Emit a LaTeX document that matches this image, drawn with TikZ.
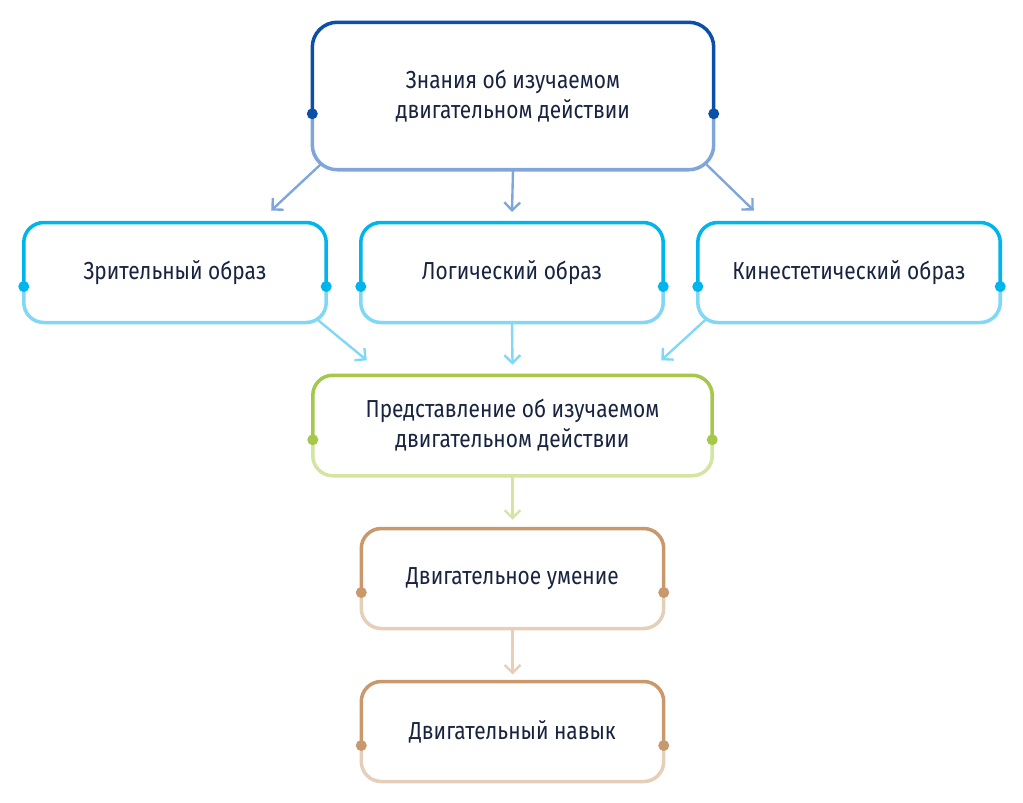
\documentclass[tikz,border=0pt]{standalone}
\usepackage{fontspec}
\setmainfont[FakeStretch=0.85]{Fira Sans}
\usetikzlibrary{arrows.meta}
\definecolor{txt}{HTML}{17233F}
\definecolor{knowD}{HTML}{0A50A8}
\definecolor{knowL}{HTML}{7FA6DB}
\definecolor{imgD}{HTML}{00B4EC}
\definecolor{imgL}{HTML}{80D8F6}
\definecolor{predD}{HTML}{A5C74A}
\definecolor{predL}{HTML}{D3E5A0}
\definecolor{skillD}{HTML}{C9996B}
\definecolor{skillL}{HTML}{E6CFB8}
% box outline: upper part dark, lower part light, dots at the split
\newcommand\twotone[5]{%
  \draw[#2,rounded corners=#5] ([yshift=#4]#1.south west) -- (#1.north west) -- (#1.north east) -- ([yshift=#4]#1.south east);
  \draw[#3,rounded corners=#5] ([yshift=#4]#1.south west) -- (#1.south west) -- (#1.south east) -- ([yshift=#4]#1.south east);
  \fill[#2] ([yshift=#4]#1.south west) circle (0.11cm) ([yshift=#4]#1.south east) circle (0.11cm);}
\begin{document}
\begin{tikzpicture}[x=0.02cm,y=-0.02cm,line width=2pt,
  block/.style={rectangle,align=center,inner sep=0pt,text=txt,font=\fontsize{14}{17}\selectfont,minimum width=5.98cm,minimum height=1.93cm},
  arr/.style={-{Straight Barb[length=4.5pt,width=9pt]},line width=1.35pt}]
\useasboundingbox (0,0) rectangle (1023,802);
\def\rowTwo{272.5}
\path
(513,96) node [block,minimum width=7.96cm,minimum height=2.88cm] (know) {Знания об изучаемом\\двигательном действии}
(175,\rowTwo) node [block] (vis) {Зрительный образ}
(512,\rowTwo) node [block] (log) {Логический образ}
(849,\rowTwo) node [block] (kin) {Кинестетический образ}
(512.5,425.5) node [block,minimum width=7.92cm,minimum height=1.94cm] (pred) {Представление об изучаемом\\двигательном действии}
(512.5,578.5) node [block] (umen) {Двигательное умение}
(512.5,731.5) node [block] (navyk) {Двигательный навык}
;

\twotone{know}{knowD}{knowL}{1.12cm}{0.5cm}
\twotone{vis}{imgD}{imgL}{0.72cm}{0.4cm}
\twotone{log}{imgD}{imgL}{0.72cm}{0.4cm}
\twotone{kin}{imgD}{imgL}{0.72cm}{0.4cm}
\twotone{pred}{predD}{predL}{0.72cm}{0.4cm}
\twotone{umen}{skillD}{skillL}{0.72cm}{0.4cm}
\twotone{navyk}{skillD}{skillL}{0.72cm}{0.4cm}

\begin{scope}[every path/.style={draw,arr}]
\path[knowL] ([shift={(8,-5)}]know.south west) -- ([shift={(-55,-12)}]vis.north east);
\path[knowL] (know.south) -- ([yshift=6]log.north);
\path[knowL] ([shift={(-7,-5)}]know.south east) -- ([shift={(56,-12)}]kin.north west);
\path[imgL] ([shift={(-9,-3)}]vis.south east) -- ([shift={(54,-15)}]pred.north west);
\path[imgL] (log.south) -- ([yshift=6]pred.north);
\path[imgL] ([shift={(8,-3)}]kin.south west) -- ([shift={(-51,-15)}]pred.north east);
\path[predL] (pred.south) -- ([yshift=5]umen.north);
\path[skillL] (umen.south) -- ([yshift=4]navyk.north);
\end{scope}
\end{tikzpicture}
\end{document}
